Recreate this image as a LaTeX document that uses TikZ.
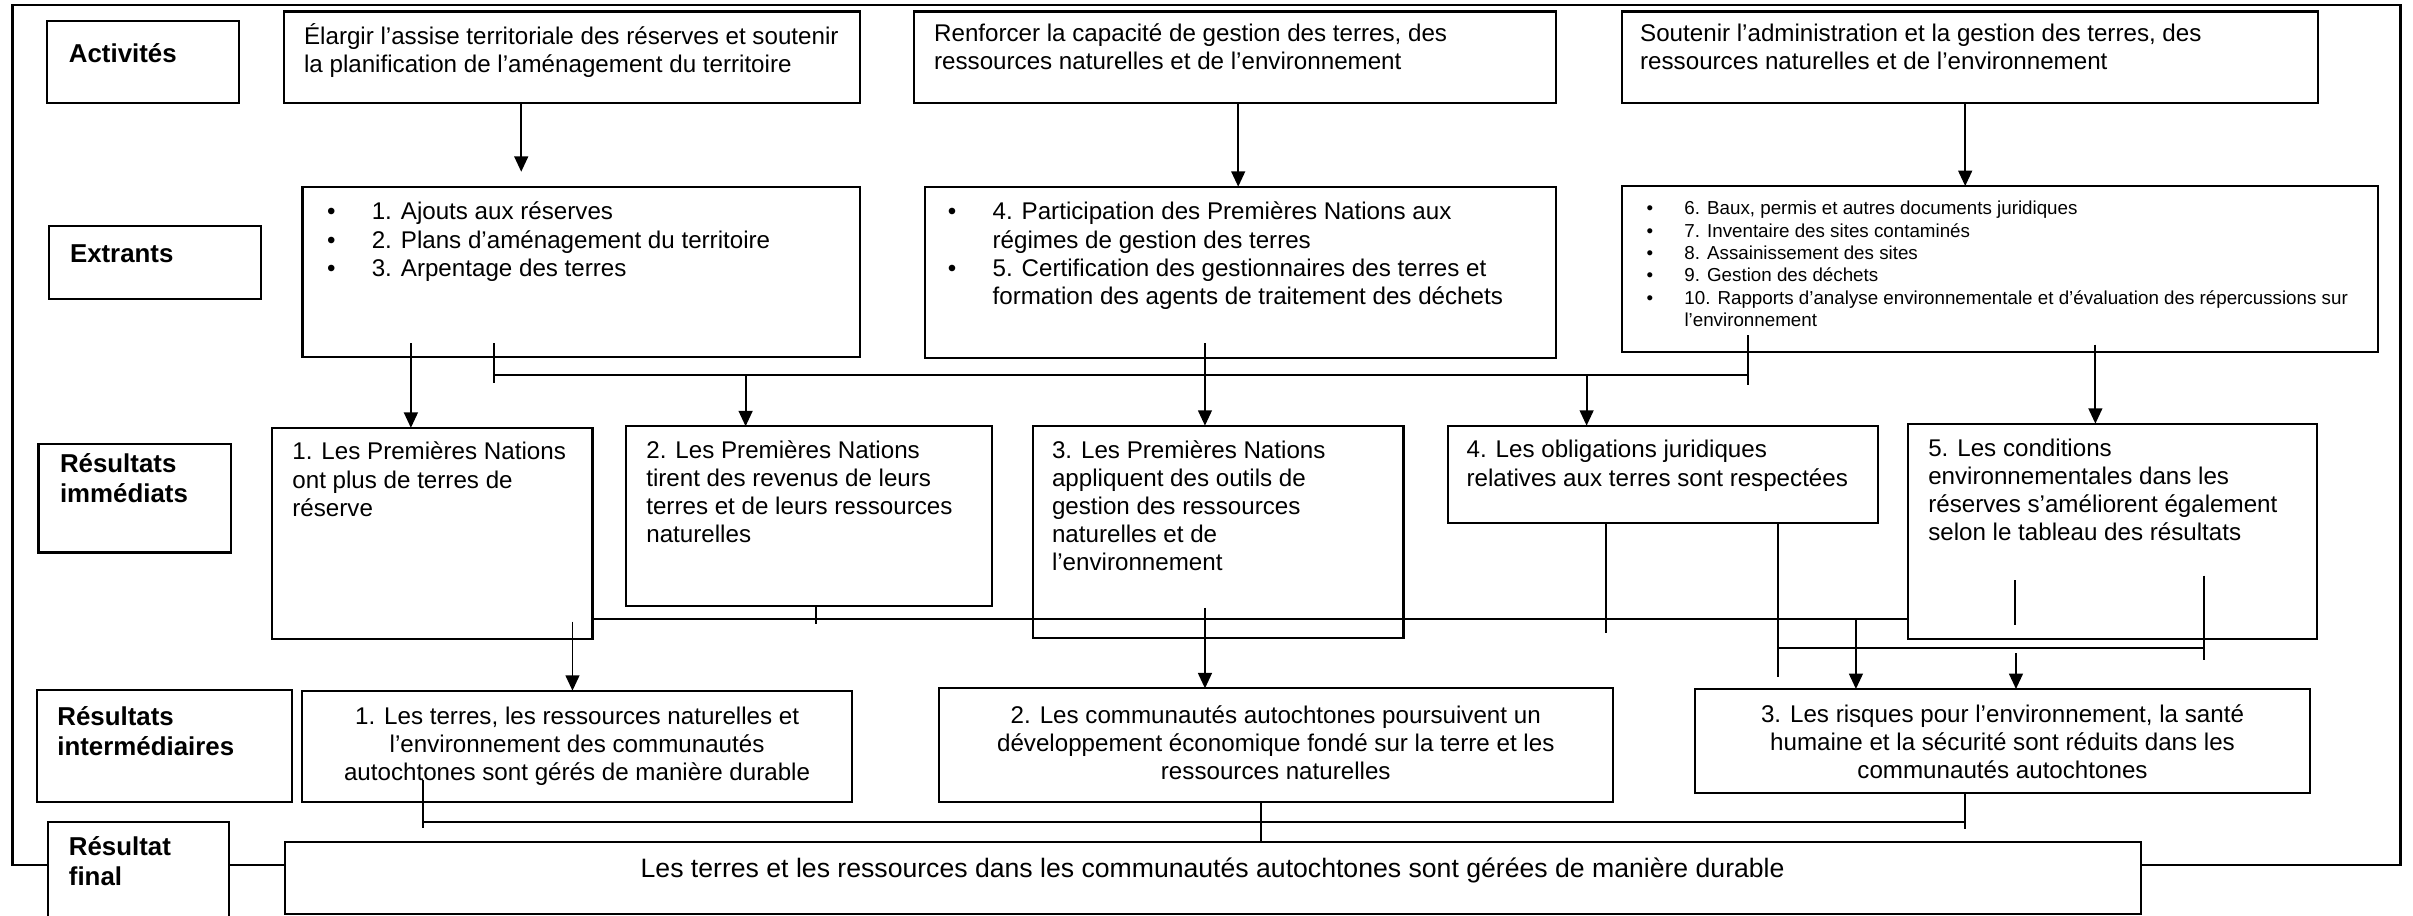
\documentclass[tikz,border=0pt]{standalone}
\usepackage{fontspec}
\setmainfont{Liberation Sans}
\usetikzlibrary{arrows.meta,positioning}
\newcommand{\puce}[1][29pt]{\makebox[#1][l]{\textbullet}}
\newcommand{\suite}[1][29pt]{\hspace*{#1}}
\tikzset{
  cadre/.style={draw, line width=1.6pt},
  box/.style={draw, line width=1.4pt, fill=white, anchor=north west, inner sep=0pt, outer sep=0pt},
  txt/.style={inner sep=0pt, outer sep=0pt, align=left, font=\fontsize{15.7pt}{18.3pt}\selectfont, execute at begin node=\strut},
  petit/.style={txt, font=\fontsize{12.2pt}{14.5pt}\selectfont},
  lbl/.style={txt, font=\fontsize{16.8pt}{19.5pt}\selectfont\bfseries},
  ctr/.style={txt, align=center},
  lien/.style={draw, line width=1.2pt},
  arr/.style={lien, ->},
}
\begin{document}
\begin{tikzpicture}[x=1pt, y=-1pt, >={Triangle[length=10pt,width=9pt]}]
  \useasboundingbox (0,0) rectangle (1568,595);
  \draw[cadre] (8,3.2) rectangle (1560,562);

  % niveaux
  \node[box, minimum width=124.9pt, minimum height=53.1pt] (niv1) at (30.6,13.6) {};
  \node[box, minimum width=138pt, minimum height=47.6pt] (niv2) at (31.7,146.9) {};
  \node[box, minimum width=125pt, minimum height=70.5pt] (niv3) at (25,288.5) {};
  \node[box, minimum width=166pt, minimum height=72.6pt] (niv4) at (24,448.4) {};
  \node[box, minimum width=118pt, minimum height=75pt] (niv5) at (31,534) {};
  \node[lbl, below right=13.3pt and 14.2pt of niv1.north west] (niv1t) {Activités};
  \node[lbl, below right=10pt and 13.8pt of niv2.north west] (niv2t) {Extrants};
  \node[lbl, below right=6pt and 14pt of niv3.north west] (niv3t) {Résultats\\immédiats};
  \node[lbl, below right=10.5pt and 13.3pt of niv4.north west] (niv4t) {Résultats\\intermédiaires};
  \node[lbl, below right=9.4pt and 13.8pt of niv5.north west] (niv5t) {Résultat\\final};

  % activités
  \node[box, minimum width=374.2pt, minimum height=59.2pt] (act1) at (184.6,7.5) {};
  \node[box, minimum width=417pt, minimum height=59.2pt] (act2) at (594,7.5) {};
  \node[box, minimum width=452.2pt, minimum height=59.2pt] (act3) at (1053.8,7.5) {};
  \node[txt, below right=8pt and 13pt of act1.north west] (act1t) {Élargir l’assise territoriale des réserves et soutenir\\la planification de l’aménagement du territoire};
  \node[txt, below right=8pt and 13pt of act2.north west] (act2t) {Renforcer la capacité de gestion des terres, des\\ressources naturelles et de l’environnement};
  \node[txt, below right=8pt and 12pt of act3.north west] (act3t) {Soutenir l’administration et la gestion des terres, des\\ressources naturelles et de l’environnement};

  % extrants
  \node[box, minimum width=362.2pt, minimum height=110.7pt] (ext1) at (196.6,121.3) {};
  \node[box, minimum width=410pt, minimum height=111.1pt] (ext2) at (601,121.3) {};
  \node[box, minimum width=491.2pt, minimum height=107.6pt] (ext3) at (1053.8,120.9) {};
  \node[txt, below right=10pt and 16pt of ext1.north west] (ext1t) {\puce 1. Ajouts aux réserves\\\puce 2. Plans d’aménagement du territoire\\\puce 3. Arpentage des terres};
  \node[txt, below right=10pt and 15pt of ext2.north west] (ext2t) {\puce 4. Participation des Premières Nations aux\\\suite régimes de gestion des terres\\\puce 5. Certification des gestionnaires des terres et\\\suite formation des agents de traitement des déchets};
  \node[petit, below right=9.8pt and 16.2pt of ext3.north west] (ext3t) {\puce[24.6pt]6. Baux, permis et autres documents juridiques\\\puce[24.6pt]7. Inventaire des sites contaminés\\\puce[24.6pt]8. Assainissement des sites\\\puce[24.6pt]9. Gestion des déchets\\\puce[24.6pt]10. Rapports d’analyse environnementale et d’évaluation des répercussions sur\\\suite[24.6pt]l’environnement};

  % résultats immédiats
  \node[box, minimum width=208pt, minimum height=137pt] (res1) at (177,278) {};
  \node[box, minimum width=237.5pt, minimum height=116.6pt] (res2) at (407,277) {};
  \node[box, minimum width=241pt, minimum height=138.1pt] (res3) at (671,276.6) {};
  \node[box, minimum width=279.8pt, minimum height=63.4pt] (res4) at (940.8,276.6) {};
  \node[box, minimum width=265.5pt, minimum height=139.9pt] (res5) at (1240,275.3) {};
  \node[txt, below right=9.3pt and 13pt of res1.north west] (res1t) {1. Les Premières Nations\\ont plus de terres de\\réserve};
  \node[txt, below right=9.3pt and 13pt of res2.north west] (res2t) {2. Les Premières Nations\\tirent des revenus de leurs\\terres et de leurs ressources\\naturelles};
  \node[txt, below right=9.6pt and 12.6pt of res3.north west] (res3t) {3. Les Premières Nations\\appliquent des outils de\\gestion des ressources\\naturelles et de\\l’environnement};
  \node[txt, below right=9.6pt and 12.2pt of res4.north west] (res4t) {4. Les obligations juridiques\\relatives aux terres sont respectées};
  \node[txt, below right=9.8pt and 13pt of res5.north west] (res5t) {5. Les conditions\\environnementales dans les\\réserves s’améliorent également\\selon le tableau des résultats};

  % résultats intermédiaires
  \node[box, minimum width=357pt, minimum height=72.2pt] (int1) at (196.5,448.8) {};
  \node[box, minimum width=438pt, minimum height=73.7pt] (int2) at (610,447.3) {};
  \node[box, minimum width=399.5pt, minimum height=67.8pt] (int3) at (1101.5,447.7) {};
  \node[ctr, below=10.7pt of int1.north] (int1t) {1. Les terres, les ressources naturelles et\\l’environnement des communautés\\autochtones sont gérés de manière durable};
  \node[ctr, below=11pt of int2.north] (int2t) {2. Les communautés autochtones poursuivent un\\développement économique fondé sur la terre et les\\ressources naturelles};
  \node[ctr, below=10pt of int3.north] (int3t) {3. Les risques pour l’environnement, la santé\\humaine et la sécurité sont réduits dans les\\communautés autochtones};

  % résultat final
  \node[box, minimum width=1206pt, minimum height=47pt] (fin) at (185,547) {};
  \node[ctr, font=\fontsize{17.3pt}{20pt}\selectfont, below=9pt of fin.north] (fint) {Les terres et les ressources dans les communautés autochtones sont gérées de manière durable};

  % activités -> extrants
  \coordinate (t1) at (338.7,111.6);
  \coordinate (t2) at (804.6,121.3);
  \coordinate (t3) at (1277,120.9);
  \draw[arr] (act1.south -| t1) -- (t1);
  \draw[arr] (act2.south -| t2) -- (ext2.north -| t2);
  \draw[arr] (act3.south -| t3) -- (ext3.north -| t3);

  % extrants -> résultats immédiats
  \coordinate (e1a) at (267,223);
  \coordinate (e1b) at (321,223);
  \coordinate (e2a) at (783,223);
  \coordinate (e3a) at (1136,217.7);
  \coordinate (e3b) at (1361.6,224);
  \coordinate (busA) at (0,243.7);
  \coordinate (d2) at (484.5,243.7);
  \coordinate (d4) at (1031,243.7);
  \draw[arr] (e1a) -- (e1a |- res1.north);
  \draw[lien] (e1b) -- ++(0,26);
  \draw[lien] (e1b |- busA) -- (e3a |- busA);
  \draw[lien] (e3a) -- ++(0,32.3);
  \draw[arr] (d2) -- (d2 |- res2.north);
  \draw[arr] (e2a) -- (e2a |- res3.north);
  \draw[arr] (d4) -- (d4 |- res4.north);
  \draw[arr] (e3b) -- (e3b |- res5.north);

  % résultats immédiats -> intermédiaires
  \coordinate (busB) at (0,402.5);
  \coordinate (r2s) at (530,405.5);
  \coordinate (r1d) at (372,404);
  \coordinate (r3d) at (783,395);
  \coordinate (r4s) at (1043.6,411);
  \coordinate (r4d) at (1155.5,440);
  \coordinate (busC) at (1432,421);
  \coordinate (r5a) at (1432,374);
  \coordinate (r5s) at (1309.5,377);
  \coordinate (i3a) at (1206,402.5);
  \coordinate (i3b) at (1310,424.5);
  \draw[lien] (res1.east |- busB) -- (res5.west |- busB);
  \draw[lien] (res2.south -| r2s) -- (r2s);
  \draw[arr] (r1d) -- (r1d |- int1.north);
  \draw[arr] (r3d) -- (r3d |- int2.north);
  \draw[lien] (res4.south -| r4s) -- (r4s);
  \draw[lien] (res4.south -| r4d) -- (r4d);
  \draw[lien] (r4d |- busC) -- (busC);
  \draw[lien] (r5a) -- ++(0,55);
  \draw[lien] (r5s) -- ++(0,29);
  \draw[arr] (i3a) -- (i3a |- int3.north);
  \draw[arr] (i3b) -- (i3b |- int3.north);

  % intermédiaires -> final
  \coordinate (i1s) at (275,507);
  \coordinate (busD) at (1277,534);
  \coordinate (busDm) at (819.5,534);
  \draw[lien] (i1s) -- ++(0,31);
  \draw[lien] (i1s |- busD) -- (busD);
  \draw[lien] (int2.south -| busDm) -- (fin.north -| busDm);
  \draw[lien] (int3.south -| busD) -- ++(0,23);
\end{tikzpicture}
\end{document}
